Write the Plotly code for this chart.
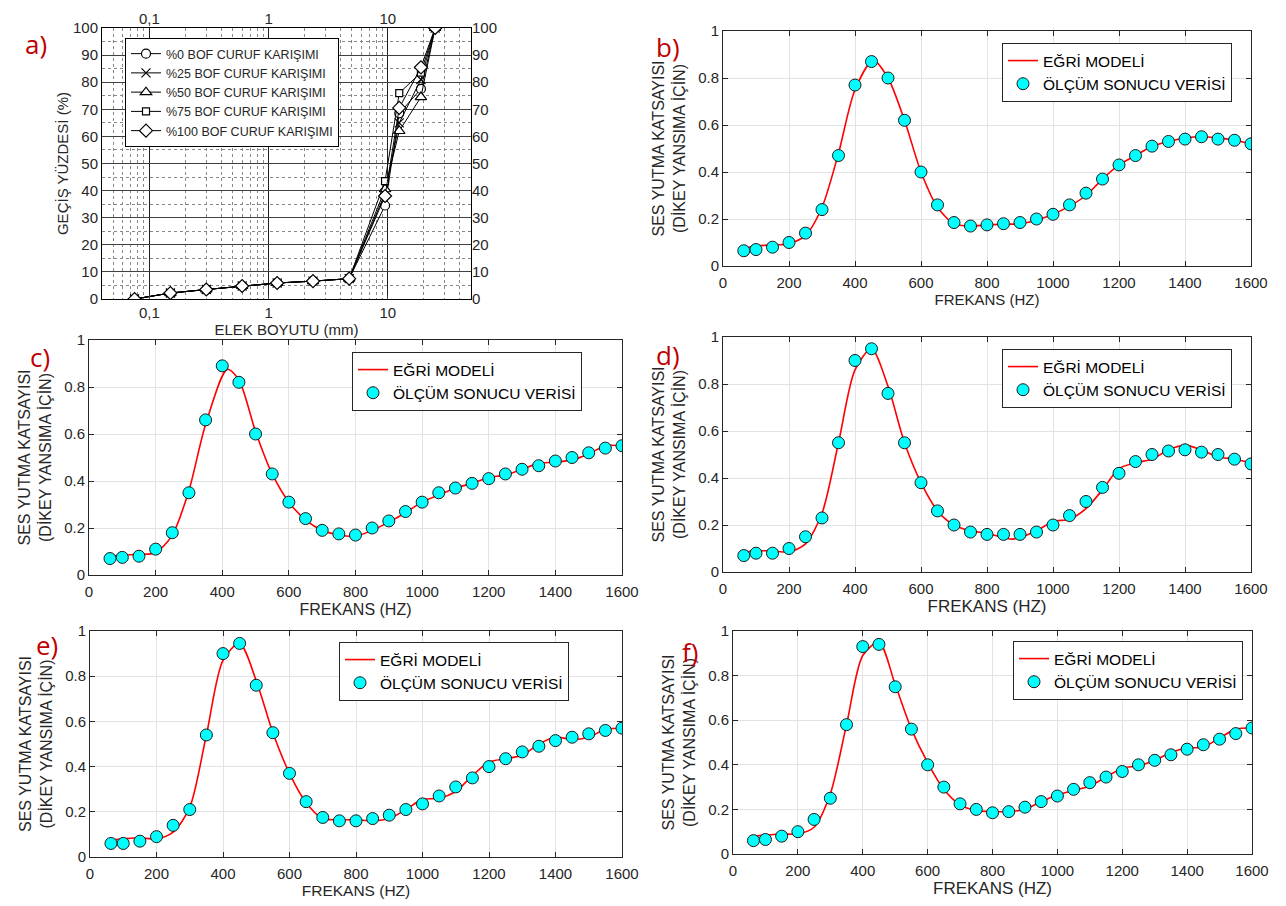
import plotly.graph_objects as go

W, H = 1286, 906
OFF = 8               # page body margin in the browser
FW, FH = W - OFF, H - OFF

# ---------------- Panel a data (sieve analysis) ----------------
sieve_mm = [0.075, 0.15, 0.3, 0.6, 1.18, 2.36, 4.75, 9.5, 12.5, 19, 25]
pass_0 = [0, 2.2, 3.5, 4.8, 5.9, 6.6, 7.5, 34.5, 68.5, 77.5, 100]
pass_25 = [0, 2.2, 3.5, 4.8, 5.9, 6.6, 7.5, 39.0, 65.0, 81.0, 100]
pass_50 = [0, 2.2, 3.5, 4.8, 5.9, 6.6, 7.5, 40.5, 62.0, 74.5, 100]
pass_75 = [0, 2.2, 3.5, 4.8, 5.9, 6.6, 7.5, 43.5, 76.0, 83.5, 100]
pass_100 = [0, 2.2, 3.5, 4.8, 5.9, 6.6, 7.5, 38.0, 70.5, 85.5, 100]
series_a_names = ["%0 BOF CURUF KARIŞIMI", "%25 BOF CURUF KARIŞIMI", "%50 BOF CURUF KARIŞIMI",
                  "%75 BOF CURUF KARIŞIMI", "%100 BOF CURUF KARIŞIMI"]
a_tick_vals = [0.1, 1, 10]
a_tick_text = ["0,1", "1", "10"]

# ---------------- Panels b-f data (absorption) ----------------
freq = [63, 100, 150, 200, 250, 300, 350, 400, 450, 500, 550, 600, 650, 700, 750, 800,
        850, 900, 950, 1000, 1050, 1100, 1150, 1200, 1250, 1300, 1350, 1400, 1450, 1500, 1550, 1600]

meas_b = [0.065, 0.07, 0.08, 0.10, 0.14, 0.24, 0.47, 0.77, 0.87, 0.80, 0.62, 0.40, 0.26, 0.185, 0.17, 0.175,
          0.18, 0.185, 0.20, 0.22, 0.26, 0.31, 0.37, 0.43, 0.47, 0.51, 0.53, 0.54, 0.55, 0.54, 0.535, 0.52]
meas_c = [0.07, 0.075, 0.08, 0.11, 0.18, 0.35, 0.66, 0.89, 0.82, 0.60, 0.43, 0.31, 0.24, 0.19, 0.175, 0.17,
          0.20, 0.23, 0.27, 0.31, 0.35, 0.37, 0.39, 0.41, 0.43, 0.45, 0.465, 0.485, 0.50, 0.52, 0.54, 0.55]
meas_d = [0.07, 0.08, 0.08, 0.10, 0.15, 0.23, 0.55, 0.90, 0.95, 0.76, 0.55, 0.38, 0.26, 0.20, 0.17, 0.16,
          0.16, 0.16, 0.17, 0.20, 0.24, 0.30, 0.36, 0.42, 0.47, 0.50, 0.515, 0.52, 0.51, 0.50, 0.48, 0.46]
meas_e = [0.06, 0.06, 0.07, 0.09, 0.14, 0.21, 0.54, 0.90, 0.945, 0.76, 0.55, 0.37, 0.245, 0.175, 0.16, 0.16,
          0.17, 0.185, 0.21, 0.235, 0.27, 0.31, 0.35, 0.40, 0.435, 0.465, 0.49, 0.515, 0.53, 0.545, 0.56, 0.57]
meas_f = [0.06, 0.065, 0.08, 0.10, 0.155, 0.25, 0.58, 0.93, 0.94, 0.75, 0.56, 0.40, 0.30, 0.225, 0.20, 0.185,
          0.19, 0.21, 0.235, 0.26, 0.29, 0.32, 0.345, 0.37, 0.40, 0.42, 0.445, 0.47, 0.49, 0.515, 0.54, 0.565]

model_freq_b = [63, 100, 150, 200, 250, 300, 350, 400, 455, 500, 550, 600, 650, 700, 750, 800,
                850, 900, 950, 1000, 1050, 1100, 1150, 1200, 1250, 1300, 1350, 1400, 1450, 1500, 1550, 1600]
model_b = [0.075, 0.085, 0.09, 0.095, 0.13, 0.25, 0.48, 0.75, 0.875, 0.80, 0.62, 0.40, 0.25, 0.18, 0.17, 0.175,
           0.178, 0.18, 0.195, 0.22, 0.255, 0.30, 0.37, 0.43, 0.47, 0.51, 0.53, 0.545, 0.55, 0.545, 0.535, 0.52]
model_freq_c = [63, 100, 150, 200, 250, 300, 350, 415, 450, 500, 550, 600, 650, 700, 750, 800,
                850, 900, 950, 1000, 1050, 1100, 1150, 1200, 1250, 1300, 1350, 1400, 1450, 1500, 1550, 1600]
model_c = [0.08, 0.085, 0.088, 0.095, 0.17, 0.36, 0.64, 0.875, 0.83, 0.61, 0.43, 0.31, 0.235, 0.19, 0.17, 0.165,
           0.19, 0.225, 0.265, 0.31, 0.34, 0.37, 0.39, 0.415, 0.425, 0.45, 0.475, 0.48, 0.49, 0.515, 0.55, 0.55]
model_freq_d = [63, 100, 150, 200, 250, 300, 350, 400, 450, 500, 550, 600, 650, 700, 750, 800,
                880, 950, 1000, 1050, 1100, 1150, 1200, 1250, 1300, 1350, 1400, 1450, 1500, 1550, 1600]
model_d = [0.085, 0.09, 0.09, 0.085, 0.12, 0.25, 0.55, 0.86, 0.95, 0.79, 0.55, 0.38, 0.26, 0.20, 0.175, 0.165,
           0.14, 0.175, 0.215, 0.225, 0.27, 0.35, 0.44, 0.465, 0.48, 0.52, 0.54, 0.52, 0.49, 0.48, 0.465]
model_freq_e = freq
model_e = [0.075, 0.08, 0.085, 0.08, 0.11, 0.22, 0.54, 0.87, 0.945, 0.78, 0.55, 0.37, 0.24, 0.17, 0.165, 0.165,
           0.16, 0.17, 0.21, 0.255, 0.26, 0.29, 0.36, 0.42, 0.435, 0.45, 0.50, 0.53, 0.52, 0.53, 0.565, 0.57]
model_freq_f = freq
model_f = [0.08, 0.085, 0.09, 0.09, 0.12, 0.27, 0.58, 0.89, 0.95, 0.76, 0.56, 0.41, 0.29, 0.22, 0.195, 0.19,
           0.19, 0.20, 0.235, 0.265, 0.285, 0.305, 0.345, 0.385, 0.395, 0.42, 0.455, 0.475, 0.48, 0.52, 0.56, 0.565]

model_name = "EĞRİ MODELİ"
meas_name = "ÖLÇÜM SONUCU VERİSİ"
panel_labels = ["a)", "b)", "c)", "d)", "e)", "f)"]

# ---------------- layout geometry (screen pixels -> paper) ----------------
def px(x):
    return (x - OFF) / FW

def py(y):
    return 1 - (y - OFF) / FH

def xd(x0, x1):
    return [px(x0), px(x1)]

def yd(y0, y1):
    return [py(y1), py(y0)]

boxes = {
    2: (723, 1251, 31, 266),
    3: (89, 622, 340, 575),
    4: (723, 1251, 337, 572),
    5: (90, 622, 631, 857),
    6: (733, 1252, 631, 854),
}
xtitle_size = {2: 15, 3: 16, 4: 17, 5: 15.5, 6: 17}
legend_pos = {2: (1002, 43), 3: (352, 352), 4: (1002, 349), 5: (339, 642), 6: (1013, 641)}
label_pos = {1: (36, 44), 2: (668, 47), 3: (40, 357), 4: (668, 355), 5: (47, 645), 6: (690, 652)}

fig = go.Figure()

FONT = "Liberation Sans, Arial, sans-serif"
TXT = "#262626"

# ---------------- Panel a ----------------
symbols = ["circle", "x-thin", "triangle-up", "square", "diamond"]
sizes = [9, 9, 10, 7, 10]
for vals, nm, sym, sz in zip([pass_0, pass_25, pass_50, pass_75, pass_100], series_a_names, symbols, sizes):
    fig.add_trace(go.Scatter(
        x=sieve_mm, y=vals, name=nm, mode="lines+markers",
        line=dict(color="black", width=1),
        marker=dict(symbol=sym, size=sz, color="white" if sym != "x-thin" else "black",
                    line=dict(color="black", width=1.2)),
        xaxis="x", yaxis="y", legend="legend"))
# invisible trace for the mirrored top/right axes of panel a
fig.add_trace(go.Scatter(x=[sieve_mm[0]], y=[pass_0[0]], mode="markers", marker=dict(opacity=0),
                         showlegend=False, hoverinfo="skip", xaxis="x7", yaxis="y7"))

minor_x = []
for dec in [0.01, 0.1, 1, 10]:
    for k in range(2, 10):
        minor_x.append(dec * k)

layout = dict(
    width=FW, height=FH, margin=dict(l=0, r=0, t=0, b=0, autoexpand=False),
    paper_bgcolor="white", plot_bgcolor="white",
    font=dict(family=FONT, color=TXT, size=14),
    showlegend=True,
)

layout["xaxis"] = dict(
    domain=xd(102, 471), anchor="y", type="log", range=[-1.398, 1.699], automargin=False,
    tickvals=a_tick_vals, ticktext=a_tick_text, ticks="inside", ticklen=4,
    showgrid=True, gridcolor="#202020", gridwidth=1,
    minor=dict(tickvals=minor_x, showgrid=True, gridcolor="#888888", griddash="dot", gridwidth=1, ticks=""),
    showline=True, linecolor="black", linewidth=1, mirror=True, zeroline=False,
    tickfont=dict(size=15, color=TXT),
    title=dict(text="ELEK BOYUTU (mm)", font=dict(size=15, color=TXT), standoff=0),
)
layout["yaxis"] = dict(
    domain=yd(28, 299), anchor="x", range=[0, 100], dtick=10, ticks="inside", ticklen=4, automargin=False,
    showgrid=True, gridcolor="#404040", gridwidth=1,
    minor=dict(dtick=5, showgrid=True, gridcolor="#888888", griddash="dot", gridwidth=1, ticks=""),
    showline=True, linecolor="black", linewidth=1, mirror=True, zeroline=False,
    tickfont=dict(size=15, color=TXT),
    title=dict(text="GEÇİŞ YÜZDESİ (%)", font=dict(size=15, color=TXT), standoff=0),
)
layout["xaxis7"] = dict(
    overlaying="x", anchor="y7", side="top", type="log", range=[-1.398, 1.699], automargin=False,
    tickvals=a_tick_vals, ticktext=a_tick_text, ticks="", showgrid=False, zeroline=False,
    tickfont=dict(size=15, color=TXT),
)
layout["yaxis7"] = dict(
    overlaying="y", anchor="x7", side="right", range=[0, 100], dtick=10, ticks="", automargin=False,
    showgrid=False, zeroline=False, tickfont=dict(size=15, color=TXT),
)
layout["legend"] = dict(
    x=px(125), y=py(38), xanchor="left", yanchor="top",
    bgcolor="white", bordercolor="black", borderwidth=1,
    font=dict(size=12.5, color=TXT, family=FONT), tracegroupgap=0, itemwidth=30,
)

# ---------------- Panels b-f ----------------
panels = [
    (2, meas_b, model_freq_b, model_b),
    (3, meas_c, model_freq_c, model_c),
    (4, meas_d, model_freq_d, model_d),
    (5, meas_e, model_freq_e, model_e),
    (6, meas_f, model_freq_f, model_f),
]
annotations = []
for idx, meas, mf, mv in panels:
    lg = f"legend{idx}"
    fig.add_trace(go.Scatter(
        x=mf, y=mv, name=model_name, mode="lines", line=dict(color="#FF0000", width=1.6, shape="spline", smoothing=0.8),
        xaxis=f"x{idx}", yaxis=f"y{idx}", legend=lg))
    fig.add_trace(go.Scatter(
        x=freq, y=meas, name=meas_name, mode="markers",
        marker=dict(symbol="circle", size=12, color="#00FFFF", line=dict(color="#1a1a1a", width=1)),
        xaxis=f"x{idx}", yaxis=f"y{idx}", legend=lg))
    x0, x1, y0, y1 = boxes[idx]
    layout[f"xaxis{idx}"] = dict(
        domain=xd(x0, x1), anchor=f"y{idx}", range=[0, 1600], dtick=200, automargin=False,
        ticks="inside", ticklen=5, tickcolor=TXT, ticklabelstandoff=3,
        showgrid=True, gridcolor="#E3E3E3", gridwidth=1,
        showline=True, linecolor=TXT, linewidth=1, mirror="ticks", zeroline=False,
        tickfont=dict(size=15, color=TXT),
        title=dict(text="FREKANS (HZ)", font=dict(size=xtitle_size[idx], color=TXT), standoff=4),
    )
    layout[f"yaxis{idx}"] = dict(
        domain=yd(y0, y1), anchor=f"x{idx}", range=[0, 1], dtick=0.2, tickformat="~g", automargin=False,
        ticks="inside", ticklen=5, tickcolor=TXT,
        showgrid=True, gridcolor="#E3E3E3", gridwidth=1,
        showline=True, linecolor=TXT, linewidth=1, mirror="ticks", zeroline=False,
        tickfont=dict(size=15, color=TXT),
        title=dict(text="SES YUTMA KATSAYISI<br>(DİKEY YANSIMA İÇİN)", font=dict(size=16, color=TXT), standoff=8),
    )
    lx, ly = legend_pos[idx]
    layout[lg] = dict(
        x=px(lx), y=py(ly), xanchor="left", yanchor="top",
        bgcolor="white", bordercolor=TXT, borderwidth=1,
        font=dict(size=15.5, color="black", family=FONT), tracegroupgap=0, itemwidth=30,
    )

# panel labels
for i, lab in enumerate(panel_labels, start=1):
    lx, ly = label_pos[i]
    annotations.append(dict(
        x=px(lx), y=py(ly), xref="paper", yref="paper", text=lab, showarrow=False,
        xanchor="center", yanchor="middle",
        font=dict(family="Open Sans, sans-serif", size=26, color="#C00000")))

layout["annotations"] = annotations
fig.update_layout(**layout)
fig.write_html("out.html")
